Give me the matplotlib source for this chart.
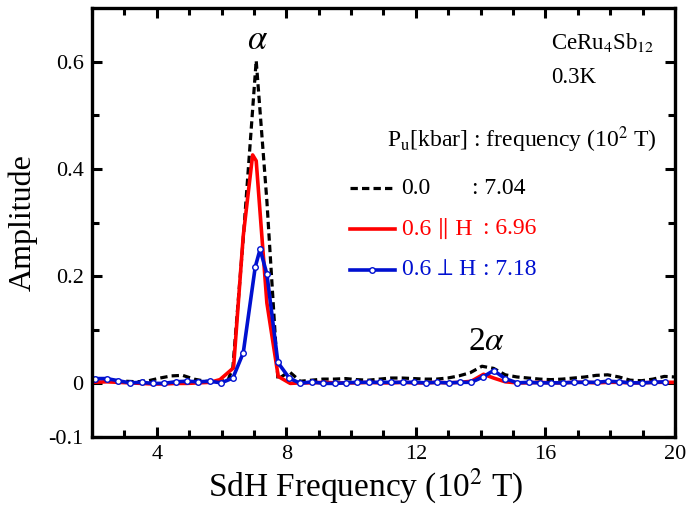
import matplotlib
matplotlib.use("Agg")
import matplotlib.pyplot as plt
from matplotlib.ticker import MultipleLocator
from matplotlib.lines import Line2D

# SdH amplitude spectra, CeRu4Sb12 at 0.3 K (frequency in 10^2 T)
black_x = [2.0, 2.35, 2.7, 3.05, 3.4, 3.75, 4.1, 4.45, 4.8, 5.15, 5.5, 5.85,
           6.2, 6.35, 6.67, 7.07, 7.40, 7.74, 8.09, 8.43, 8.78, 9.13, 9.48,
           9.83, 10.18, 10.53, 10.88, 11.23, 11.58, 11.93, 12.28, 12.63, 12.98,
           13.33, 13.68, 14.04, 14.40, 14.76, 15.12, 15.47, 15.82, 16.17,
           16.52, 16.87, 17.22, 17.57, 17.92, 18.27, 18.62, 18.97, 19.32,
           19.67, 20.0]
black_y = [0.004, 0.006, 0.002, 0.004, 0.003, 0.005, 0.010, 0.014, 0.015,
           0.008, 0.004, 0.003, 0.006, 0.03, 0.27, 0.602, 0.34, 0.008, 0.022,
           0.004, 0.006, 0.008, 0.008, 0.009, 0.007, 0.006, 0.008, 0.010,
           0.010, 0.009, 0.008, 0.008, 0.010, 0.014, 0.020, 0.032, 0.028,
           0.016, 0.012, 0.010, 0.008, 0.007, 0.008, 0.010, 0.012, 0.015,
           0.016, 0.012, 0.006, 0.005, 0.008, 0.013, 0.012]

red_x = [2.0, 2.45, 2.81, 3.17, 3.53, 3.87, 4.22, 4.58, 4.93, 5.28, 5.64,
         5.95, 6.37, 6.67, 6.96, 7.07, 7.40, 7.75, 8.12, 8.43, 8.79, 9.14,
         9.49, 9.84, 10.19, 10.54, 10.89, 11.24, 11.59, 11.95, 12.31, 12.65,
         13.0, 13.37, 13.71, 14.09, 14.40, 14.76, 15.12, 15.48, 15.82, 16.17,
         16.53, 16.87, 17.23, 17.59, 17.92, 18.28, 18.62, 18.98, 19.34,
         19.68, 20.0]
red_y = [0.002, 0.003, 0.002, 0.001, 0.0, -0.001, -0.001, 0.0, 0.0, 0.001,
         0.002, 0.007, 0.029, 0.275, 0.426, 0.415, 0.15, 0.013, 0.0, 0.001,
         0.001, 0.002, 0.001, 0.001, 0.001, 0.002, 0.001, 0.001, 0.002,
         0.001, 0.001, 0.002, 0.001, 0.002, 0.004, 0.017, 0.01, 0.003, 0.001,
         0.001, 0.002, 0.001, 0.001, 0.002, 0.002, 0.001, 0.002, 0.002,
         0.001, 0.001, 0.002, 0.002, 0.002]

blue_x = [2.09, 2.45, 2.81, 3.17, 3.53, 3.87, 4.22, 4.58, 4.93, 5.28, 5.64,
          5.99, 6.35, 6.67, 7.04, 7.19, 7.40, 7.74, 8.09, 8.43, 8.79, 9.14,
          9.49, 9.84, 10.19, 10.54, 10.89, 11.24, 11.60, 11.95, 12.31, 12.65,
          13.01, 13.37, 13.71, 14.07, 14.40, 14.76, 15.12, 15.48, 15.82,
          16.17, 16.53, 16.87, 17.23, 17.59, 17.92, 18.28, 18.62, 18.98,
          19.34, 19.68]
blue_y = [0.009, 0.009, 0.005, 0.001, 0.002, 0.0, 0.0, 0.003, 0.004, 0.003,
          0.004, 0.001, 0.010, 0.057, 0.217, 0.250, 0.204, 0.039, 0.010, 0.0,
          0.003, 0.0, 0.0, 0.001, 0.002, 0.002, 0.002, 0.002, 0.002, 0.002,
          0.001, 0.002, 0.001, 0.002, 0.002, 0.012, 0.024, 0.009, 0.001,
          0.002, 0.001, 0.001, 0.001, 0.002, 0.002, 0.002, 0.004, 0.003,
          0.001, 0.001, 0.002, 0.003]

legend_rows = [("0.0", ": 7.04", "black"),
               ("0.6 \u2225 H", ": 6.96", "#ff0000"),
               ("0.6 \u22a5 H", ": 7.18", "#0010d0")]

plt.rcParams["font.family"] = ["Liberation Serif", "STIXGeneral", "DejaVu Serif"]
plt.rcParams["mathtext.fontset"] = "stix"

fig = plt.figure(figsize=(6.87, 5.13), dpi=100)
ax = fig.add_axes([0.1339, 0.1481, 0.8486, 0.8363])

lw = 2.3
ax.plot(black_x, black_y, color="black", lw=lw, ls=(0, (2.3, 1.3)))
ax.plot(red_x, red_y, color="#ff0000", lw=2.6)
ax.plot(blue_x, blue_y, color="#0010d0", lw=2.6, marker="o", ms=4,
        mfc="white", mec="#0010d0", mew=1.0)

ax.set_xlim(2, 20)
ax.set_ylim(-0.1, 0.7)
ax.set_xticks([4, 8, 12, 16, 20])
ax.xaxis.set_minor_locator(MultipleLocator(1))
ax.set_yticks([-0.1, 0, 0.2, 0.4, 0.6])
ax.set_yticklabels(["-0.1", "0", "0.2", "0.4", "0.6"])
ax.set_yticks([0.1, 0.3, 0.5], minor=True)
ax.tick_params(which="both", direction="in", top=True, right=True,
               width=2.2, labelsize=16, pad=6)
ax.tick_params(which="major", length=7)
ax.tick_params(which="minor", length=5)
for s in ax.spines.values():
    s.set_linewidth(2.4)

ax.set_xlabel("SdH Frequency (10$^2$ T)", fontsize=24)
ax.xaxis.set_label_coords(0.47, -0.07)
ax.set_ylabel("Amplitude", fontsize=23, labelpad=8)

ax.text(7.1, 0.64, r"$\alpha$", fontsize=25, ha="center", va="center")
ax.text(14.17, 0.078, r"2$\alpha$", fontsize=24, ha="center", va="center")

ax.text(0.787, 0.905, r"CeRu$_4$Sb$_{12}$", transform=ax.transAxes,
        fontsize=16.5)
ax.text(0.787, 0.825, "0.3K", transform=ax.transAxes, fontsize=16.5)
ax.text(0.506, 0.675, r"P$_{\rm u}$[kbar] : frequency (10$^2$ T)",
        transform=ax.transAxes, fontsize=17)

row_y = [0.58, 0.485, 0.39]
for (lab, freq, col), yy in zip(legend_rows, row_y):
    if col == "black":
        ln = Line2D([0.442, 0.52], [yy, yy], transform=ax.transAxes,
                    color=col, lw=lw, ls=(0, (2.3, 1.3)))
    elif col == "#0010d0":
        ax.plot([0.442, 0.481, 0.52], [yy, yy, yy], transform=ax.transAxes,
                color=col, lw=2.6, marker="o", ms=4, mfc="white", mec=col,
                mew=1.0, markevery=[1])
        ln = None
    else:
        ln = Line2D([0.442, 0.52], [yy, yy], transform=ax.transAxes,
                    color=col, lw=2.6)
    if ln is not None:
        ax.add_line(ln)
    ax.text(0.531, yy, lab, transform=ax.transAxes, color=col, fontsize=17,
            va="center")
    xf = 0.652 if col == "black" else 0.67
    ax.text(xf, yy, freq, transform=ax.transAxes, color=col, fontsize=17,
            va="center")

fig.savefig("out.png", dpi=100)
